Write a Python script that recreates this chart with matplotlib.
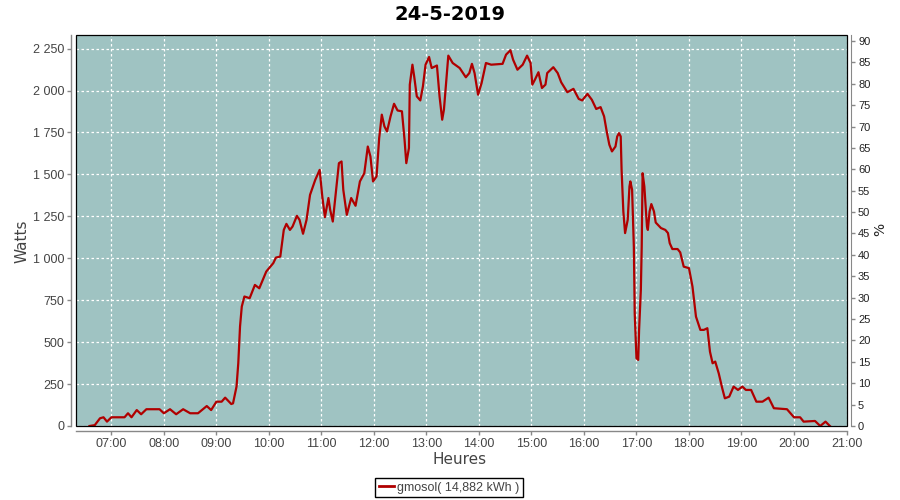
import matplotlib
matplotlib.use("Agg")
import matplotlib.pyplot as plt
from matplotlib.ticker import FixedLocator, FuncFormatter
from matplotlib.patches import Rectangle

# ---- data (minutes since midnight, watts) ----
minutes = [395, 401, 407, 411, 415, 420, 435, 439, 443, 449, 454, 460, 475, 480,
           487, 494, 502, 510, 519, 529, 534, 540, 546, 550, 557, 559, 563, 565,
           567, 569, 572, 578, 584, 589, 597, 605, 608, 613, 617, 620, 624, 627,
           632, 635, 639, 643, 647, 653, 658, 661, 664, 668, 670, 673, 676, 680,
           683, 685, 689, 694, 699, 704, 709, 713, 716, 719, 723, 726, 729, 732,
           735, 739, 743, 747, 752, 755, 757, 760, 761, 764, 766, 769, 773, 776,
           779, 783, 786, 792, 795, 798, 800, 802, 805, 810, 818, 825, 829, 832,
           835, 839, 843, 848, 854, 867, 871, 876, 879, 884, 890, 895, 899, 901,
           904, 908, 912, 916, 918, 925, 930, 934, 941, 948, 954, 958, 964, 969,
           974, 979, 983, 986, 989, 992, 996, 998, 1000, 1002, 1003, 1005, 1007,
           1010, 1012, 1013, 1015, 1017, 1018, 1020, 1022, 1023, 1025, 1026,
           1027, 1029, 1032, 1033, 1035, 1037, 1040, 1042, 1048, 1053, 1056,
           1058, 1061, 1067, 1070, 1074, 1080, 1084, 1088, 1093, 1097, 1101,
           1104, 1107, 1110, 1114, 1118, 1121, 1126, 1131, 1136, 1141, 1145,
           1151, 1157, 1164, 1167, 1171, 1177, 1192, 1196, 1200, 1207, 1211,
           1224, 1230, 1236, 1241]
watts = [0, 5, 46, 52, 26, 52, 52, 76, 52, 95, 70, 100, 100, 76,
         100, 70, 100, 76, 76, 119, 95, 145, 145, 169, 131, 135, 235, 374,
         593, 712, 772, 762, 841, 821, 921, 971, 1004, 1010, 1169, 1205, 1169, 1189,
         1253, 1229, 1146, 1229, 1378, 1468, 1527, 1368, 1245, 1359, 1289, 1219, 1368, 1567,
         1577, 1408, 1259, 1359, 1313, 1458, 1507, 1666, 1607, 1458, 1488, 1716, 1856, 1786,
         1756, 1846, 1921, 1881, 1876, 1706, 1567, 1657, 2035, 2154, 2084, 1965, 1941, 2025,
         2154, 2200, 2134, 2149, 1965, 1826, 1886, 2015, 2208, 2164, 2134, 2079, 2104, 2159,
         2104, 1975, 2044, 2164, 2154, 2159, 2214, 2240, 2184, 2124, 2154, 2208, 2164, 2035,
         2065, 2109, 2015, 2035, 2104, 2139, 2104, 2049, 1990, 2010, 1950, 1941, 1980, 1945,
         1890, 1901, 1846, 1756, 1677, 1637, 1666, 1726, 1746, 1726, 1527, 1279, 1150,
         1229, 1428, 1458, 1408, 1070, 672, 404, 394, 573, 811, 1070,
         1507, 1428, 1189, 1169, 1279, 1323, 1279, 1213, 1180, 1169, 1150,
         1090, 1055, 1055, 1035, 950, 941, 831, 652, 573, 573, 583,
         443, 374, 384, 314, 225, 165, 175, 235, 215, 235, 215,
         215, 145, 145, 155, 169, 106, 100, 76, 52, 52, 26,
         30, 0, 26, 0]

title = "24-5-2019"
series_label = "gmosol( 14,882 kWh )"
hour_ticks = list(range(7, 22))
hour_labels = [f"{h:02d}:00" for h in hour_ticks]
watt_ticks = list(range(0, 2251, 250))
pct_ticks = list(range(0, 91, 5))

# ---- style ----
TICK_FONT = "Liberation Sans"
bg = "#9fc3c2"
line_col = "#b00000"
axis_gray = "#888888"
text_col = "#444444"

fig = plt.figure(figsize=(9, 5), dpi=100)
fig.patch.set_facecolor("white")
L, R, T, B = 75.5, 846.5, 35, 426
ax = fig.add_axes([L / 900, 1 - B / 500, (R - L) / 900, (B - T) / 500])
ax.set_facecolor(bg)

hours = [m / 60 for m in minutes]
ax.plot(hours, watts, color=line_col, lw=1.6, zorder=3, solid_joinstyle="round")

ax.set_xlim(379 / 60, 21.0)
ax.set_ylim(0, 2331)

ax.xaxis.set_major_locator(FixedLocator(hour_ticks))
ax.set_xticklabels(hour_labels)
ax.yaxis.set_major_locator(FixedLocator(watt_ticks))
ax.yaxis.set_major_formatter(FuncFormatter(lambda v, p: f"{int(v):,}".replace(",", " ")))

ax.grid(True, color="white", linestyle=(0, (2, 2)), linewidth=0.9, zorder=1)
ax.set_axisbelow(True)

for s in ["top", "right"]:
    ax.spines[s].set_visible(False)
ax.spines["left"].set_position(("outward", 3))
ax.spines["bottom"].set_position(("outward", 3.3))
for s in ["left", "bottom"]:
    ax.spines[s].set_color(axis_gray)
    ax.spines[s].set_linewidth(1.0)

ax.tick_params(axis="both", direction="out", length=3, width=1, color=axis_gray,
               labelcolor=text_col, labelsize=9, pad=2)
for lab in ax.get_xticklabels() + ax.get_yticklabels():
    lab.set_fontfamily(TICK_FONT)

# border of plot area
ax.add_patch(Rectangle((0, 0), 1, 1, transform=ax.transAxes, fill=False,
                       edgecolor="black", linewidth=0.9, zorder=5, clip_on=False))

# right axis %
ax2 = ax.twinx()
ax2.set_ylim(0, 91.4)
ax2.yaxis.set_major_locator(FixedLocator(pct_ticks))
for s in ["top", "left", "bottom"]:
    ax2.spines[s].set_visible(False)
ax2.spines["right"].set_position(("outward", 3.3))
ax2.spines["right"].set_color(axis_gray)
ax2.tick_params(axis="y", direction="out", length=3, width=1, color=axis_gray,
                labelcolor="#222222", labelsize=8, pad=2)
for lab in ax2.get_yticklabels():
    lab.set_fontfamily(TICK_FONT)

# texts
fig.text(450 / 900, 1 - 14 / 500, title, ha="center", va="center",
         fontsize=14, fontweight="bold", family="DejaVu Sans", color="black")
fig.text(22 / 900, 1 - 241 / 500, "Watts", rotation=90, ha="center", va="center",
         fontsize=11, family="DejaVu Sans", color=text_col)
fig.text(460 / 900, 1 - 460 / 500, "Heures", ha="center", va="center",
         fontsize=11, family="DejaVu Sans", color=text_col)
fig.text(880 / 900, 1 - 229 / 500, "%", rotation=90, ha="center", va="center",
         fontsize=10, family="DejaVu Sans", color="#222222")

leg = fig.legend([plt.Line2D([], [], color=line_col, lw=2)], [series_label],
                 loc="center", bbox_to_anchor=(449 / 900, 1 - 487.5 / 500),
                 frameon=True, fancybox=False, edgecolor="black", framealpha=1,
                 handlelength=1.2, handletextpad=0.3, borderpad=0.3,
                 prop={"family": TICK_FONT, "size": 9})
leg.get_frame().set_linewidth(1.0)
for t in leg.get_texts():
    t.set_color(text_col)

fig.savefig("out.png", dpi=100)
